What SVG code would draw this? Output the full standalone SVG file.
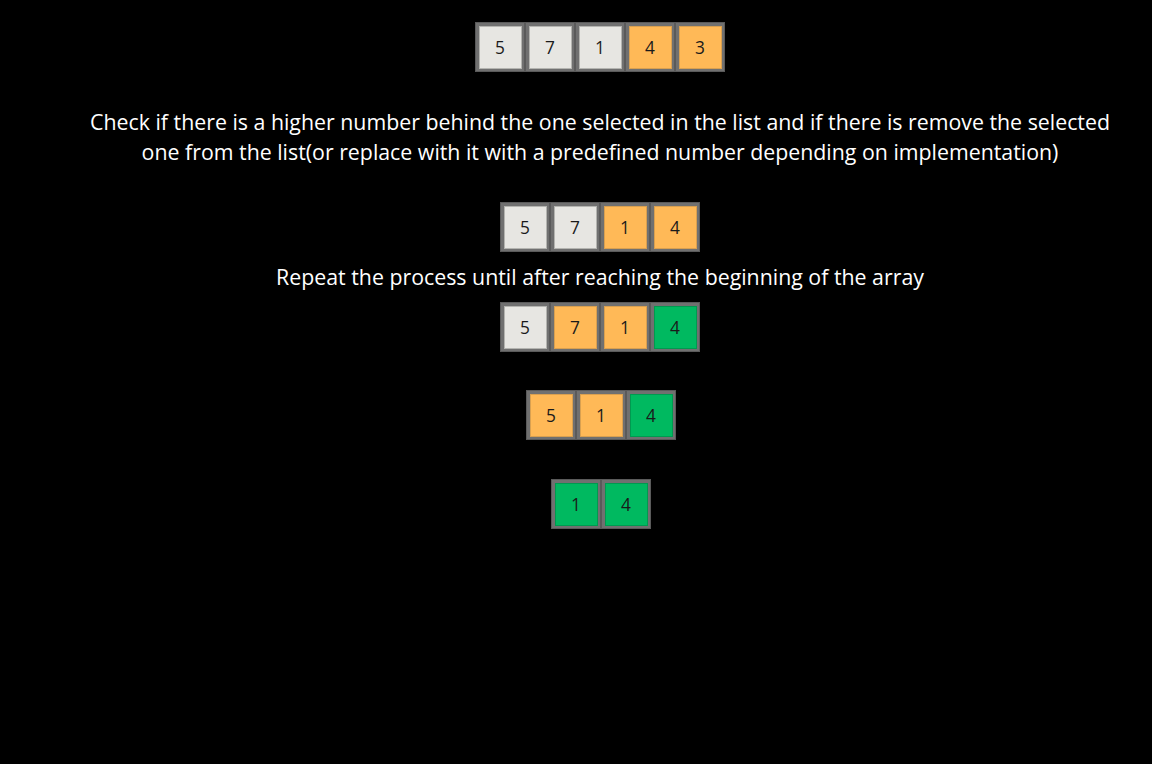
<svg xmlns="http://www.w3.org/2000/svg" width="1152" height="764" viewBox="0 0 1152 764">
<style>
.o{fill:#707070;stroke:#5a5a5a;stroke-width:1}
.g{fill:#e7e6e2;stroke:#b4b4b0;stroke-width:1}
.y{fill:#ffb957;stroke:#d9a050;stroke-width:1}
.n{fill:#00b960;stroke:#009a50;stroke-width:1}
.t{font-family:"Open Sans","Liberation Sans",sans-serif;font-size:17.3px;fill:#1a1a1a;text-anchor:middle}
.l{font-family:"Open Sans","Liberation Sans",sans-serif;font-size:21.33px;fill:#ffffff;text-anchor:middle}
</style>
<defs>
<g id="c"><rect class="o" x="0.5" y="0.5" width="49" height="49"/></g>
</defs>
<rect width="1152" height="764" fill="#000"/>
<g id="row1">
<use href="#c" x="475" y="22"/><rect class="g" x="479.5" y="26.5" width="42" height="42"/><text class="t" x="500" y="54">5</text>
<use href="#c" x="525" y="22"/><rect class="g" x="529.5" y="26.5" width="42" height="42"/><text class="t" x="550" y="54">7</text>
<use href="#c" x="575" y="22"/><rect class="g" x="579.5" y="26.5" width="42" height="42"/><text class="t" x="600" y="54">1</text>
<use href="#c" x="625" y="22"/><rect class="y" x="629.5" y="26.5" width="42" height="42"/><text class="t" x="650" y="54">4</text>
<use href="#c" x="675" y="22"/><rect class="y" x="679.5" y="26.5" width="42" height="42"/><text class="t" x="700" y="54">3</text>
</g>
<g id="text1">
<text class="l" x="600" y="130">Check if there is a higher number behind the one selected in the list and if there is remove the selected</text>
<text class="l" x="600" y="160">one from the list(or replace with it with a predefined number depending on implementation)</text>
</g>
<g id="row2">
<use href="#c" x="500" y="202"/><rect class="g" x="504.5" y="206.5" width="42" height="42"/><text class="t" x="525" y="234">5</text>
<use href="#c" x="550" y="202"/><rect class="g" x="554.5" y="206.5" width="42" height="42"/><text class="t" x="575" y="234">7</text>
<use href="#c" x="600" y="202"/><rect class="y" x="604.5" y="206.5" width="42" height="42"/><text class="t" x="625" y="234">1</text>
<use href="#c" x="650" y="202"/><rect class="y" x="654.5" y="206.5" width="42" height="42"/><text class="t" x="675" y="234">4</text>
</g>
<g id="text2">
<text class="l" x="600" y="285">Repeat the process until after reaching the beginning of the array</text>
</g>
<g id="row3">
<use href="#c" x="500" y="302"/><rect class="g" x="504.5" y="306.5" width="42" height="42"/><text class="t" x="525" y="334">5</text>
<use href="#c" x="550" y="302"/><rect class="y" x="554.5" y="306.5" width="42" height="42"/><text class="t" x="575" y="334">7</text>
<use href="#c" x="600" y="302"/><rect class="y" x="604.5" y="306.5" width="42" height="42"/><text class="t" x="625" y="334">1</text>
<use href="#c" x="650" y="302"/><rect class="n" x="654.5" y="306.5" width="42" height="42"/><text class="t" x="675" y="334">4</text>
</g>
<g id="row4">
<use href="#c" x="526" y="390"/><rect class="y" x="530.5" y="394.5" width="42" height="42"/><text class="t" x="551" y="422">5</text>
<use href="#c" x="576" y="390"/><rect class="y" x="580.5" y="394.5" width="42" height="42"/><text class="t" x="601" y="422">1</text>
<use href="#c" x="626" y="390"/><rect class="n" x="630.5" y="394.5" width="42" height="42"/><text class="t" x="651" y="422">4</text>
</g>
<g id="row5">
<use href="#c" x="551" y="479"/><rect class="n" x="555.5" y="483.5" width="42" height="42"/><text class="t" x="576" y="511">1</text>
<use href="#c" x="601" y="479"/><rect class="n" x="605.5" y="483.5" width="42" height="42"/><text class="t" x="626" y="511">4</text>
</g>
<g id="connectors"/>
</svg>
